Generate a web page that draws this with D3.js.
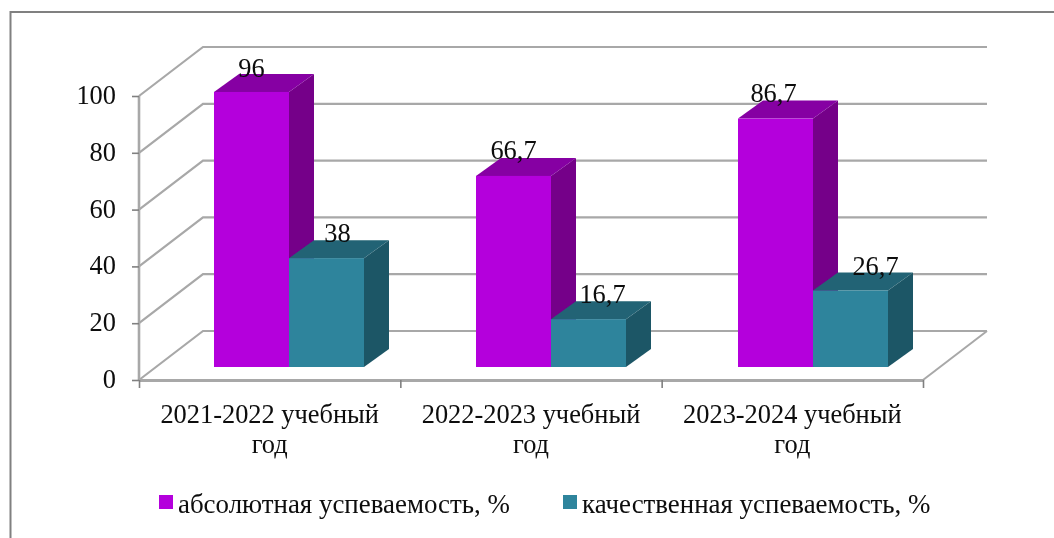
<!DOCTYPE html>
<html><head><meta charset="utf-8">
<script src="https://cdn.jsdelivr.net/npm/d3@7"></script>
<style>
html,body{margin:0;padding:0;background:#fff;overflow:hidden}
text{font-family:"Liberation Serif","Times New Roman",serif;fill:#0a0a0a}
</style></head><body><svg id="c" width="1054" height="538"></svg>
<script>
const categories = ["2021-2022 учебный год","2022-2023 учебный год","2023-2024 учебный год"];
const seriesNames = ["абсолютная успеваемость, %","качественная успеваемость, %"];
const absolute = [96,66.7,86.7];
const quality = [38,16.7,26.7];
const yTicks = [0,20,40,60,80,100];

const seriesColors = [
  {front:"#b400dc",top:"#8600a3",side:"#740089"},
  {front:"#2f849c",top:"#236475",side:"#1f5666"}
];
const W=1054,H=538;
const svg=d3.select("#c");
const defs=svg.append("defs");
defs.append("filter").attr("id","soft").attr("filterUnits","userSpaceOnUse")
  .attr("x",0).attr("y",0).attr("width",W).attr("height",H)
  .append("feGaussianBlur").attr("stdDeviation",0.6);
svg.append("rect").attr("width",W).attr("height",H).attr("fill","#fff");
const root=svg.append("g").attr("filter","url(#soft)");

// frame
root.append("path").attr("d",`M10.5,${H+4}V12H${W+4}`).attr("fill","none").attr("stroke","#808080").attr("stroke-width",2);

// scales
const y=d3.scaleLinear().domain([0,100]).range([380,96]);
const yBar=d3.scaleLinear().domain([0,100]).range([367,80.5]);
const x=d3.scalePoint().domain(d3.range(categories.length+1)).range([139,923]);
const band=d3.scaleBand().domain(categories).range([139,925]);
const inner=d3.scaleBand().domain([0,1]).range([75,225]);
const wallDx=64,wallDy=49,barDx=25,barDy=18;
const grid="#a8a8a8";

// gridlines: side wall + back wall
const gridG=root.append("g");
yTicks.forEach(t=>{
  const yy=y(t);
  gridG.append("path")
    .attr("d",`M139,${yy}L${139+wallDx},${yy-wallDy}H${923+wallDx}`)
    .attr("fill","none").attr("stroke",grid).attr("stroke-width",2.2);
});
// floor
gridG.append("path").attr("d",`M923,380L${923+wallDx},${380-wallDy}`).attr("fill","none").attr("stroke",grid).attr("stroke-width",2);
gridG.append("path").attr("d","M139,380.5H923").attr("stroke",grid).attr("stroke-width",3);
gridG.append("path").attr("d","M139,96V380").attr("stroke",grid).attr("stroke-width",2.6);

// axes
const fs=26.4;
const ay=root.append("g").attr("transform","translate(139,0)")
  .call(d3.axisLeft(y).tickValues(yTicks).tickSize(7).tickPadding(16));
ay.select(".domain").remove();
ay.selectAll("line").attr("stroke","#808080").attr("stroke-width",1.6);
ay.selectAll("text").attr("font-size",fs).attr("font-family",null).attr("fill",null).attr("dy","0.28em");

const ax=root.append("g").attr("transform","translate(0,380)")
  .call(d3.axisBottom(x).tickSize(8).tickFormat(""));
ax.select(".domain").remove();
ax.selectAll("line").attr("stroke","#808080").attr("stroke-width",1.6);

// category labels
const catG=root.append("g");
categories.forEach((c,i)=>{
  const cx=(x(i)+x(i+1))/2;
  const m=c.lastIndexOf(" ");
  const t=catG.append("text").attr("text-anchor","middle").attr("font-size",fs);
  t.append("tspan").attr("x",cx).attr("y",423).text(c.slice(0,m));
  t.append("tspan").attr("x",cx).attr("y",453).text(c.slice(m+1));
});

// bars
const labelNudge=[[0,11],[0,14],[-2,25]];
const labelLift=[[15,16],[17,16],[17,16]];
const series=[absolute,quality];
const fmt=v=>String(v).replace(".",",");
const barG=root.append("g"), labG=root.append("g");
categories.forEach((c,ci)=>{
  [0,1].forEach(si=>{
    const v=series[si][ci], col=seriesColors[si];
    const x0=band(c)+inner(si), x1=x0+inner.bandwidth();
    const y0=yBar(0), y1=yBar(v);
    barG.append("path").attr("fill",col.side)
      .attr("d",`M${x1},${y1}L${x1+barDx},${y1-barDy}V${y0-barDy}L${x1},${y0}Z`);
    barG.append("path").attr("fill",col.top)
      .attr("d",`M${x0},${y1}L${x0+barDx},${y1-barDy}H${x1+barDx}L${x1},${y1}Z`);
    barG.append("rect").attr("x",x0).attr("y",y1).attr("width",x1-x0).attr("height",y0-y1).attr("fill",col.front);
    labG.append("text").attr("text-anchor","middle").attr("font-size",fs)
      .attr("x",(x0+x1)/2+labelNudge[ci][si]).attr("y",y1-labelLift[ci][si]).text(fmt(v));
  });
});

// legend
const lg=root.append("g");
[[159,178],[563,582]].forEach((p,i)=>{
  lg.append("rect").attr("x",p[0]).attr("y",495).attr("width",14).attr("height",14).attr("fill",seriesColors[i].front);
  lg.append("text").attr("x",p[1]).attr("y",513).attr("font-size",26.9).text(seriesNames[i]);
});
</script></body></html>
